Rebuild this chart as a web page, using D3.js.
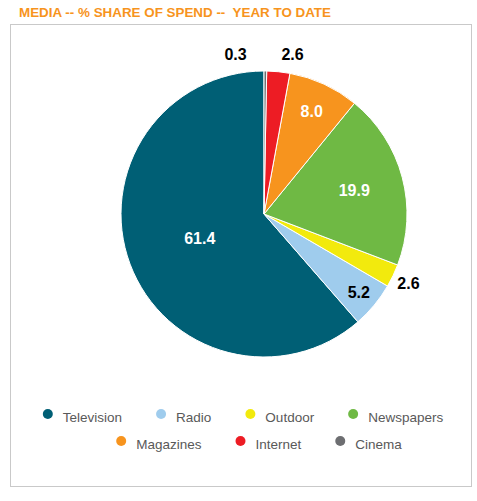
<!DOCTYPE html>
<html>
<head>
<meta charset="utf-8">
<script src="https://cdn.jsdelivr.net/npm/d3@7"></script>
<style>
  html, body { margin: 0; padding: 0; background: #fff; }
  svg { display: block; font-family: "Liberation Sans", Arial, sans-serif; }
</style>
</head>
<body>
<div id="chart"></div>
<script>
// Data
const categories = ["Television", "Radio", "Outdoor", "Newspapers", "Magazines", "Internet", "Cinema"];
const shares = [61.4, 5.2, 2.6, 19.9, 8.0, 2.6, 0.3];
const colors = ["#005f75", "#9fcced", "#f2ea0d", "#6fb944", "#f7941e", "#ed1c24", "#6d6e71"];
const titleText = "MEDIA -- % SHARE OF SPEND --  YEAR TO DATE";

// Setup
const width = 477, height = 501;
const cx = 264, cy = 214, radius = 143;

const svg = d3.select("#chart").append("svg")
  .attr("width", width)
  .attr("height", height);

svg.append("text")
  .attr("x", 19)
  .attr("y", 17)
  .attr("fill", "#f7941d")
  .attr("font-size", 13.4)
  .attr("font-weight", "bold")
  .style("white-space", "pre")
  .text(titleText);

// Frame
svg.append("rect")
  .attr("x", 10.5)
  .attr("y", 24.5)
  .attr("width", 461)
  .attr("height", 462)
  .attr("fill", "none")
  .attr("stroke", "#c9c9c9")
  .attr("stroke-width", 1);

const data = categories.map((c, i) => ({ name: c, value: shares[i], color: colors[i] }));

// Slices run counter-clockwise from 12 o'clock
const pie = d3.pie().sort(null).value(d => d.value)
  .startAngle(0).endAngle(-2 * Math.PI);
const arcs = pie(data);
const arc = d3.arc().innerRadius(0).outerRadius(radius);

const g = svg.append("g").attr("transform", `translate(${cx},${cy})`);

g.selectAll("path")
  .data(arcs)
  .join("path")
  .attr("d", arc)
  .attr("fill", d => d.data.color)
  .attr("stroke", "#fff")
  .attr("stroke-width", 1);

// Labels: inside for big slices (further out the narrower the slice), outside for tiny ones
const labels = arcs.map(d => {
  const mid = (d.startAngle + d.endAngle) / 2;
  const inside = d.data.value >= 4;
  const f = inside ? 1.114 - 0.154 * Math.log(d.data.value) : 1.12;
  return {
    d,
    inside,
    x: radius * f * Math.sin(mid),
    y: -radius * f * Math.cos(mid)
  };
});

// fan out outside labels that crowd each other near the top
const outside = labels.filter(l => !l.inside && l.y < 0).sort((a, b) => a.x - b.x);
const minGap = 57;
for (let i = 1; i < outside.length; i++) {
  const a = outside[i - 1], b = outside[i];
  if (b.x - a.x < minGap && Math.abs(b.y - a.y) < 18) {
    a.x = -minGap / 2;
    b.x = minGap / 2;
  }
}

g.selectAll("text.value")
  .data(labels)
  .join("text")
  .attr("class", "value")
  .attr("x", l => l.x)
  .attr("y", l => l.y)
  .attr("dy", "0.36em")
  .attr("text-anchor", "middle")
  .attr("font-size", 16)
  .attr("font-weight", "bold")
  .attr("fill", l => (l.inside && d3.hsl(l.d.data.color).l < 0.7) ? "#fff" : "#000")
  .text(l => l.d.data.value.toFixed(1));

// Legend
const legendRows = [categories.slice(0, 4), categories.slice(4)];
const rowY = [414, 441];
const rowCenter = [243, 259];
const itemGap = 34;

legendRows.forEach((row, r) => {
  const lg = svg.append("g");
  let x = 0;
  row.forEach(name => {
    const i = categories.indexOf(name);
    const item = lg.append("g").attr("transform", `translate(${x},0)`);
    item.append("circle")
      .attr("cx", 5)
      .attr("cy", 0)
      .attr("r", 5)
      .attr("fill", colors[i]);
    const t = item.append("text")
      .attr("x", 20)
      .attr("y", 8)
      .attr("font-size", 13.5)
      .attr("fill", "#595959")
      .text(name);
    x += 20 + t.node().getComputedTextLength() + itemGap;
  });
  const total = x - itemGap;
  lg.attr("transform", `translate(${rowCenter[r] - total / 2},${rowY[r]})`);
});
</script>
</body>
</html>
